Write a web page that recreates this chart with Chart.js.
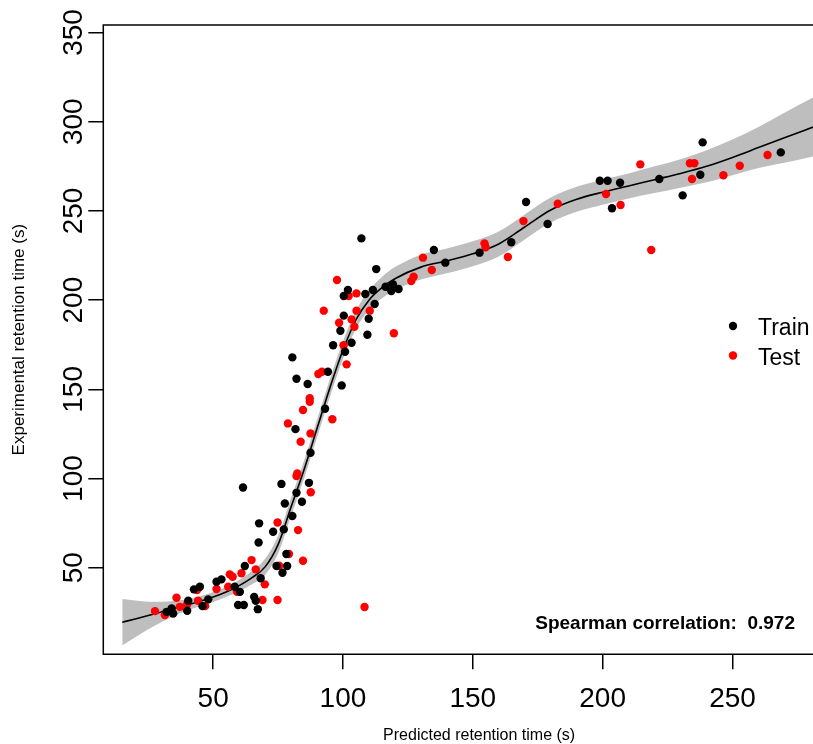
<!DOCTYPE html>
<html>
<head>
<meta charset="utf-8">
<script src="https://cdn.jsdelivr.net/npm/chart.js@4.4.1/dist/chart.umd.min.js"></script>
<style>
  html, body { margin: 0; padding: 0; background: #fff; }
  #wrap { width: 813px; height: 744px; position: relative; }
</style>
</head>
<body>
<div id="wrap"><canvas id="chart"></canvas></div>
<script>
// training points (predicted, experimental)
const trainX = [61.5, 76.3, 86.9, 82.1, 84.2, 77.6, 80.5, 67.7, 73.1, 77.2, 67.5, 78.2, 74.4, 78.5, 76.7, 68.3, 62.2, 58.3, 51.3, 53.2, 60.3, 65.8, 66.4, 59.6, 61.8, 67.2, 44.9, 42.6, 48.1, 45.9, 40.4, 40.0, 34.0, 32.1, 34.6,
  107.1, 112.8, 101.9, 100.3, 108.6, 111.5, 116.4, 118.6, 119.2, 121.4, 112.2, 109.9, 100.3, 99.0, 109.4, 103.3, 96.2, 100.8, 80.5, 94.2, 82.1, 86.4, 99.5, 93.1, 81.7, 87.5,
  135.0, 139.4, 152.6, 164.8, 170.5, 178.8, 198.9, 201.9, 206.7, 221.8, 203.6, 230.8, 237.6, 238.5, 268.6];
const trainY = [95.0, 97.0, 97.6, 92.0, 87.0, 86.0, 79.0, 74.9, 70.2, 71.5, 64.2, 57.7, 51.0, 51.0, 47.2, 44.1, 51.0, 39.4, 42.2, 43.5, 36.5, 33.7, 31.5, 29.1, 29.1, 26.8, 39.4, 37.9, 32.3, 28.5, 31.5, 25.9, 27.2, 25.3, 24.4,
  234.6, 217.4, 205.7, 202.3, 203.4, 205.7, 207.5, 205.1, 208.9, 206.2, 197.8, 189.6, 191.3, 182.8, 180.6, 176.1, 174.7, 171.1, 167.9, 159.9, 155.9, 153.0, 152.2, 139.1, 127.7, 114.5,
  228.1, 221.0, 226.6, 232.4, 255.0, 242.7, 266.9, 266.9, 265.8, 267.9, 251.5, 258.7, 270.3, 288.4, 282.8];

// test points
const testX = [87.6, 74.8, 82.7, 64.8, 79.2, 75.4, 84.6, 66.4, 60.9, 56.4, 57.5, 69.9, 51.3, 55.8, 59.2, 43.8, 44.2, 46.9, 35.9, 69.0, 74.8, 27.6, 31.4, 34.0, 37.2, 40.0, 108.3,
  97.7, 102.2, 105.2, 92.6, 110.3, 105.2, 126.3, 127.2, 98.5, 103.3, 104.4, 119.6, 100.2, 101.4, 90.5, 91.9, 87.2, 87.2, 84.6, 78.8, 95.9, 87.5, 83.7, 82.1, 82.4,
  130.8, 134.2, 154.5, 154.9, 163.5, 169.5, 182.7, 214.5, 233.6, 235.3, 234.4, 201.3, 206.9, 246.5, 252.8, 263.5, 218.7];
const testY = [92.3, 75.4, 71.1, 54.3, 57.7, 51.1, 53.9, 49.1, 46.9, 46.3, 45.0, 40.7, 38.1, 39.4, 36.5, 37.5, 31.5, 28.5, 33.2, 31.9, 31.9, 25.7, 23.5, 25.3, 28.1, 29.6, 28.0,
  211.3, 202.3, 203.8, 194.1, 194.1, 194.1, 210.7, 213.1, 187.3, 189.2, 185.1, 181.4, 174.7, 164.0, 158.6, 159.9, 145.0, 143.0, 138.4, 130.9, 133.2, 125.3, 120.6, 101.4, 102.9,
  223.8, 216.9, 231.8, 229.6, 224.2, 244.3, 254.0, 276.1, 276.7, 276.7, 267.9, 259.5, 253.3, 270.0, 275.3, 281.3, 228.1];

// smoothed fit and its confidence band
const fitX    = [15, 20, 25, 30, 35, 40, 45, 50, 55, 60, 65, 70, 75, 80, 85, 90, 95, 100, 105, 110, 115, 120, 130, 140, 150, 160, 170, 180, 190, 200, 210, 220, 230, 240, 250, 260, 270, 281];
const fitY    = [19.5, 21.3, 23.2, 25.2, 27.2, 29.2, 31.2, 33.6, 36.4, 40.0, 44.5, 50.5, 63.0, 84.0, 105.0, 128.0, 151.0, 172.0, 189.0, 200.0, 207.0, 212.0, 218.5, 222.0, 226.0, 231.5, 241.0, 250.5, 256.5, 260.5, 264.0, 267.5, 271.0, 275.0, 280.0, 285.5, 291.0, 297.0];
const bandLow = [6.5, 11.0, 15.5, 19.5, 23.0, 26.0, 28.4, 30.8, 33.6, 36.8, 40.8, 46.0, 58.0, 79.0, 100.0, 123.0, 146.0, 167.0, 184.0, 194.5, 201.0, 205.5, 211.5, 215.0, 219.0, 224.5, 234.0, 243.5, 249.5, 253.5, 257.0, 260.0, 263.0, 266.0, 270.0, 274.0, 277.0, 280.5];
const bandHigh = [32.5, 31.6, 31.0, 31.0, 31.4, 32.4, 34.0, 36.4, 39.2, 43.2, 48.2, 55.0, 68.0, 89.0, 110.0, 133.0, 156.0, 177.0, 194.0, 205.5, 213.0, 218.5, 225.5, 229.0, 233.0, 238.5, 248.0, 257.5, 263.5, 267.5, 271.0, 275.0, 279.0, 284.0, 290.0, 297.0, 305.0, 313.5];

const xTicks = [50, 100, 150, 200, 250];
const yTicks = [50, 100, 150, 200, 250, 300, 350];

const spearman = 'Spearman correlation:  0.972';

const pts = (xs, ys) => xs.map((x, i) => ({ x: x, y: ys[i] }));

const sans = "'Liberation Sans', Arial, sans-serif";

// the picture is cropped: the plot region really runs ~42px past the right edge,
// so the x title is centred on that wider box (pixel mapping is already fixed by now)
const widenX = {
    id: 'widenX',
    afterLayout(chart) {
        chart.scales.x.right += 42;
    }
};

// box around the plot (right side is off the picture), legend, correlation label
const extras = {
    id: 'extras',
    afterDraw(chart) {
        const ctx = chart.ctx;
        const a = chart.chartArea;
        ctx.save();
        ctx.strokeStyle = '#000';
        ctx.lineWidth = 1.5;
        ctx.beginPath();
        ctx.moveTo(chart.width + 2, a.top);
        ctx.lineTo(a.left, a.top);
        ctx.lineTo(a.left, a.bottom);
        ctx.lineTo(chart.width + 2, a.bottom);
        ctx.stroke();

        // legend
        const items = [
            { label: chart.data.datasets[0].label, color: chart.data.datasets[0].backgroundColor },
            { label: chart.data.datasets[1].label, color: chart.data.datasets[1].backgroundColor }
        ];
        ctx.font = "23px " + sans;
        ctx.textBaseline = 'alphabetic';
        ctx.textAlign = 'left';
        items.forEach((it, i) => {
            const y = 326 + i * 29.5;
            ctx.fillStyle = it.color;
            ctx.beginPath();
            ctx.arc(733, y, 4.2, 0, Math.PI * 2);
            ctx.fill();
            ctx.fillStyle = '#000';
            ctx.fillText(it.label, 758, y + 9);
        });

        ctx.font = "bold 19px " + sans;
        ctx.textAlign = 'right';
        ctx.fillText(spearman, 795, 629);
        ctx.restore();
    }
};

new Chart(document.getElementById('chart'), {
    type: 'scatter',
    data: {
        datasets: [
            { label: 'Train', data: pts(trainX, trainY), backgroundColor: '#000000', pointRadius: 4.2, borderWidth: 0, pointHoverRadius: 4.2 },
            { label: 'Test', data: pts(testX, testY), backgroundColor: '#FF0000', pointRadius: 4.2, borderWidth: 0, pointHoverRadius: 4.2 },
            { label: 'fit', data: pts(fitX, fitY), showLine: true, borderColor: '#000', borderWidth: 1.6, pointRadius: 0, cubicInterpolationMode: 'monotone', fill: false },
            { label: 'low', data: pts(fitX, bandLow), showLine: true, borderWidth: 0, borderColor: 'rgba(0,0,0,0)', pointRadius: 0, cubicInterpolationMode: 'monotone', fill: false },
            { label: 'high', data: pts(fitX, bandHigh), showLine: true, borderWidth: 0, borderColor: 'rgba(0,0,0,0)', pointRadius: 0, cubicInterpolationMode: 'monotone', fill: '-1', backgroundColor: '#BEBEBE' }
        ]
    },
    options: {
        responsive: true,
        maintainAspectRatio: false,
        animation: false,
        events: [],
        layout: { autoPadding: false, padding: { left: 0, right: 0, top: 25, bottom: 0 } },
        plugins: {
            legend: { display: false },
            tooltip: { enabled: false }
        },
        scales: {
            x: {
                type: 'linear',
                min: 7.7,
                max: 281,
                afterFit: (s) => { s.height = 89.7; },
                afterBuildTicks: (s) => { s.ticks = xTicks.map(v => ({ value: v })); },
                ticks: {
                    includeBounds: false,
                    color: '#000',
                    padding: 13,
                    maxRotation: 0,
                    font: { family: sans, size: 28 }
                },
                grid: { drawOnChartArea: false, color: '#000', lineWidth: 1.5, tickLength: 15 },
                border: { display: false },
                title: {
                    display: true,
                    text: 'Predicted retention time (s)',
                    color: '#000',
                    font: { family: sans, size: 16 },
                    padding: { top: 0, bottom: -1 }
                }
            },
            y: {
                type: 'linear',
                min: 1.5,
                max: 354.2,
                afterFit: (s) => { s.width = 103.3; },
                afterBuildTicks: (s) => { s.ticks = yTicks.map(v => ({ value: v })); },
                ticks: {
                    includeBounds: false,
                    color: '#000',
                    minRotation: 90,
                    maxRotation: 90,
                    crossAlign: 'center',
                    padding: -9,
                    font: { family: sans, size: 28 }
                },
                grid: { drawOnChartArea: false, color: '#000', lineWidth: 1.5, tickLength: 15 },
                border: { display: false },
                title: {
                    display: true,
                    text: 'Experimental retention time (s)',
                    color: '#000',
                    font: { family: sans, size: 17 },
                    padding: { top: 9, bottom: 0 }
                }
            }
        }
    },
    plugins: [widenX, extras]
});
</script>
</body>
</html>
